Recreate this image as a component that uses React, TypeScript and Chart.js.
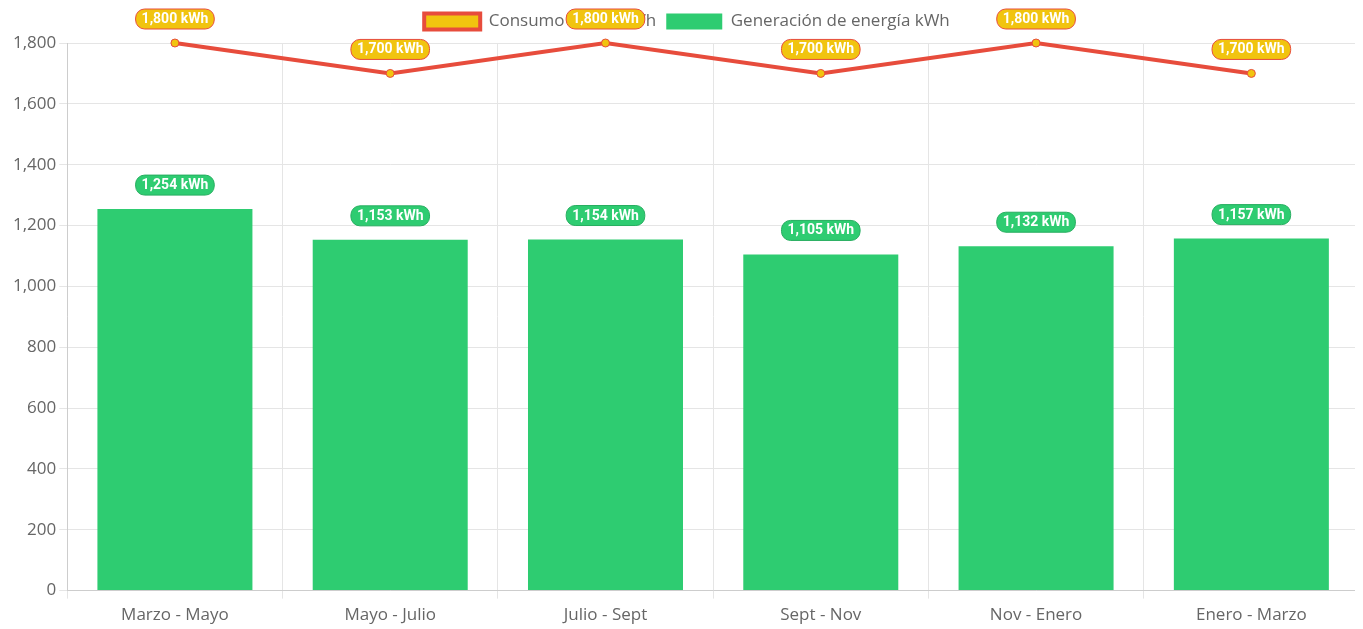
import React, { useEffect, useRef } from "react";
import { Chart, registerables } from "chart.js";

Chart.register(...registerables);

const categories = ["Marzo - Mayo", "Mayo - Julio", "Julio - Sept", "Sept - Nov", "Nov - Enero", "Enero - Marzo"];
const consumo = [1800, 1700, 1800, 1700, 1800, 1700];
const generacion = [1254, 1153, 1154, 1105, 1132, 1157];
const yTicks = [0, 200, 400, 600, 800, 1000, 1200, 1400, 1600, 1800];

const FONT = "'Open Sans', 'Noto Sans', sans-serif";

const legendShift = {
  id: "legendShift",
  afterLayout(chart: any) {
    if (chart.legend) {
      chart.legend.top -= 3;
      chart.legend.bottom -= 3;
    }
  },
};

const labelPlugin = {
  id: "valueLabels",
  afterDraw(chart: any) {
    const ctx = chart.ctx;
    ctx.save();
    ctx.font = "bold 14px Roboto, 'Noto Sans', sans-serif";
    ctx.textAlign = "center";
    ctx.textBaseline = "middle";
    const draw = (x: number, y: number, text: string, fill: string, stroke: string) => {
      const w = ctx.measureText(text).width + 12;
      const h = 20;
      const r = 9;
      ctx.beginPath();
      ctx.roundRect(x - w / 2, y - h / 2, w, h, r);
      ctx.fillStyle = fill;
      ctx.fill();
      ctx.lineWidth = 1;
      ctx.strokeStyle = stroke;
      ctx.stroke();
      ctx.fillStyle = "#ffffff";
      ctx.fillText(text, x, y + 0.5);
    };
    chart.data.datasets.forEach((ds: any, di: number) => {
      const meta = chart.getDatasetMeta(di);
      meta.data.forEach((el: any, i: number) => {
        const v = ds.data[i];
        const text = v.toLocaleString("en-US") + " kWh";
        if (ds.type === "line") {
          draw(el.x, el.y - 24, text, "#f1c40f", "#e74c3c");
        } else {
          draw(el.x, el.y - 24, text, "#2ecc71", "#27ae60");
        }
      });
    });
    ctx.restore();
  },
};

export default function App() {
  const ref = useRef<HTMLCanvasElement>(null);
  useEffect(() => {
    document.documentElement.style.overflow = "hidden";
    if (!ref.current) return;
    const chart = new Chart(ref.current, {
      type: "bar",
      data: {
        labels: categories,
        datasets: [
          {
            type: "line",
            label: "Consumo actual kWh",
            data: consumo,
            borderColor: "#e74c3c",
            backgroundColor: "#f1c40f",
            borderWidth: 4,
            pointRadius: 4,
            pointBackgroundColor: "#f1c40f",
            pointBorderColor: "#e74c3c",
            pointBorderWidth: 1,
            clip: false,
            order: 0,
          } as any,
          {
            type: "bar",
            label: "Generación de energía kWh",
            data: generacion,
            backgroundColor: "#2ecc71",
            borderWidth: 0,
            order: 1,
          },
        ],
      },
      options: {
        animation: false,
        responsive: true,
        maintainAspectRatio: false,
        layout: { padding: { top: -2, right: 0, left: 2 } },
        plugins: {
          legend: {
            position: "top",
            labels: {
              font: { family: FONT, size: 17 },
              color: "#666",
              boxWidth: 56,
              boxHeight: 16,
            },
          },
          tooltip: { enabled: false },
        },
        scales: {
          x: {
            grid: { color: "#e5e5e5" },
            ticks: { font: { family: FONT, size: 17 }, color: "#666", padding: 6 },
          },
          y: {
            min: 0,
            max: 1800,
            afterBuildTicks: (axis: any) => {
              axis.ticks = yTicks.map((v) => ({ value: v }));
            },
            grid: { color: "#e5e5e5" },
            ticks: { font: { family: FONT, size: 17 }, color: "#666" },
          },
        },
      },
      plugins: [legendShift, labelPlugin],
    });
    return () => chart.destroy();
  }, []);
  return (
    <div style={{ position: "relative", width: "1356px", height: "623px" }}>
      <canvas ref={ref} />
    </div>
  );
}
